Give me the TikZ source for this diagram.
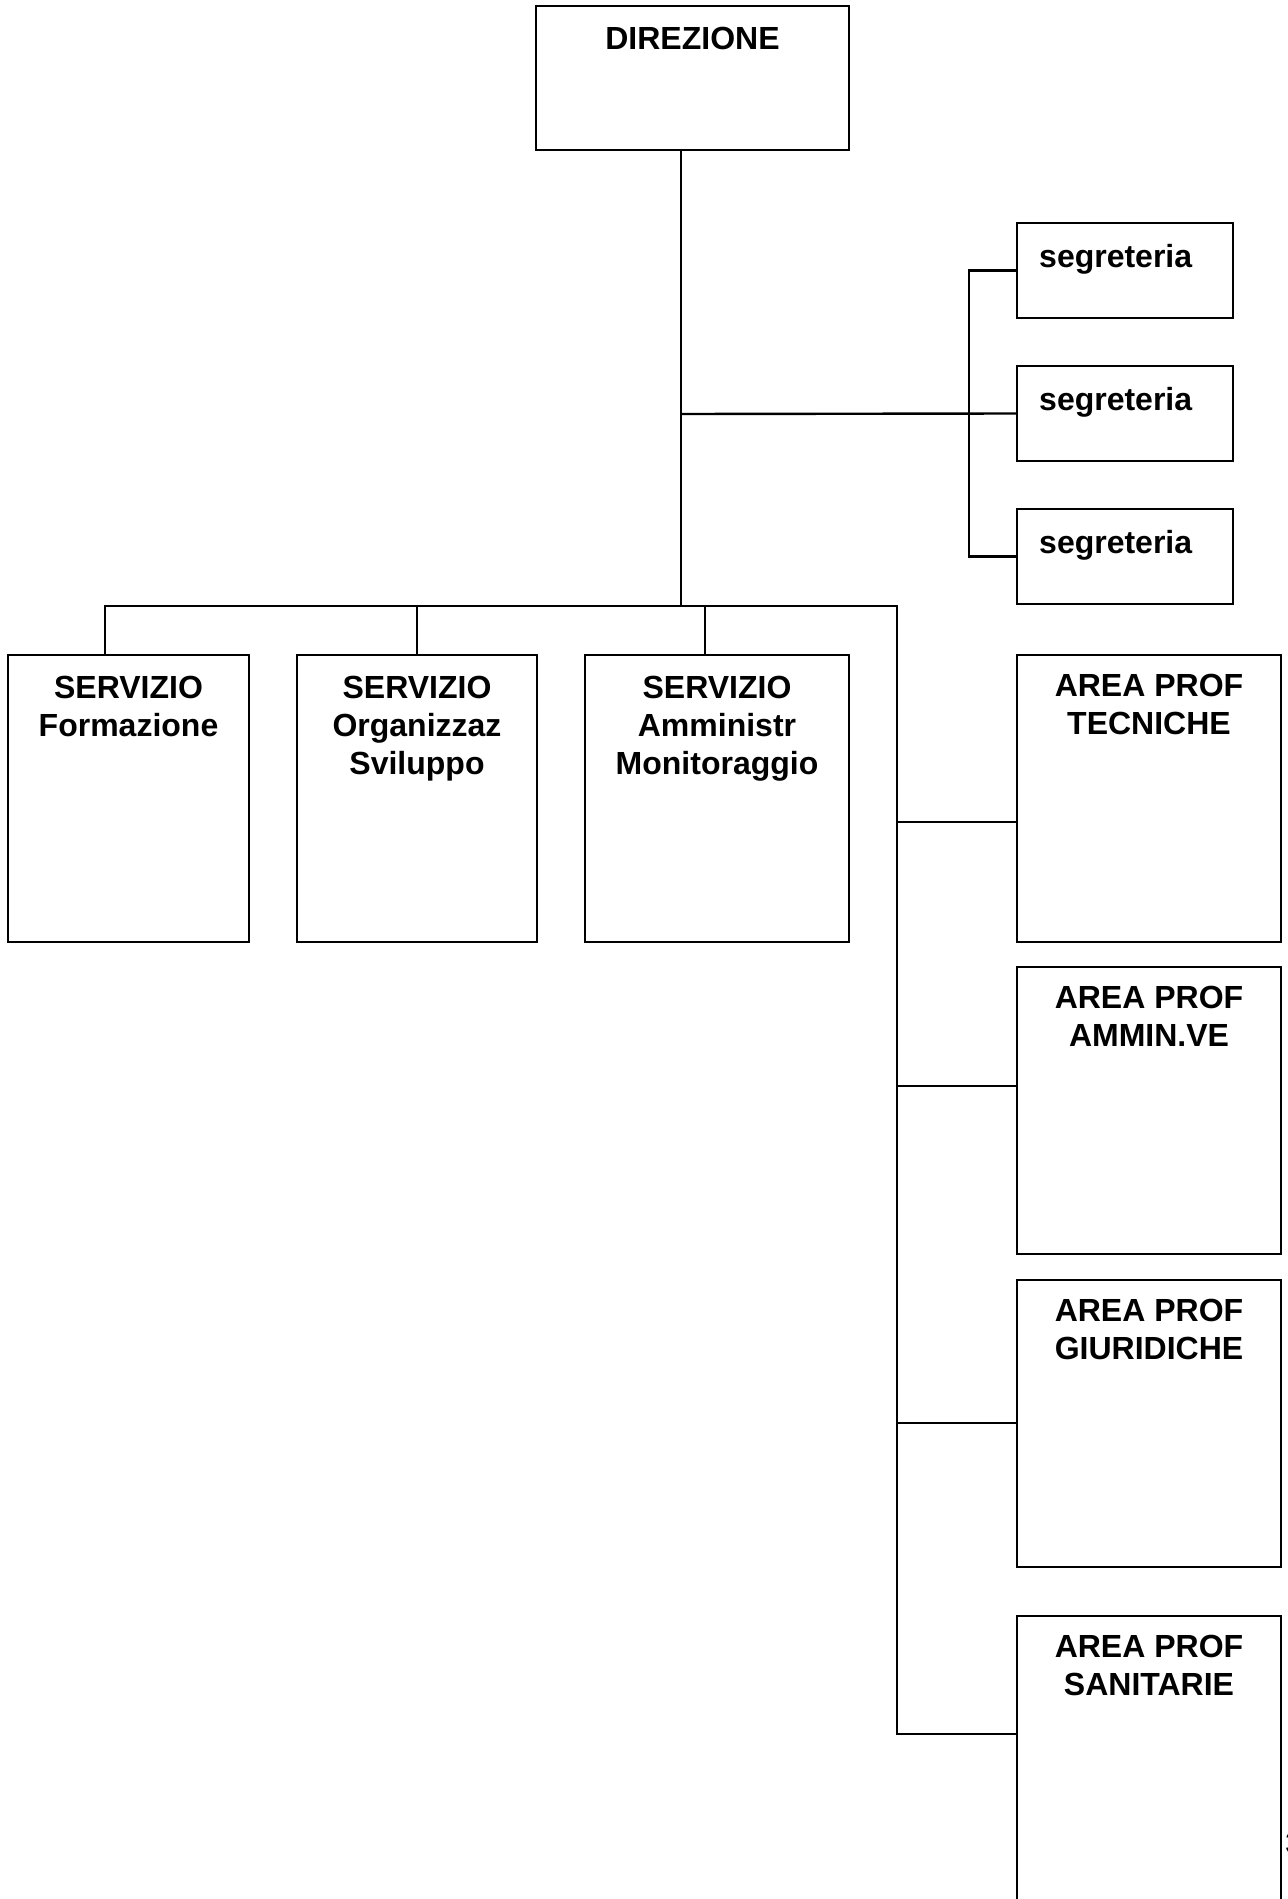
\documentclass[tikz,border=0pt]{standalone}
\usepackage{fontspec}
\setmainfont{Liberation Sans}
\usetikzlibrary{positioning, calc}

\begin{document}
\begin{tikzpicture}[x=0.5pt, y=-0.5pt, line width=1.2pt,
    box/.style={rectangle, draw, outer sep=0pt, anchor=north west},
    lbl/.style={inner sep=0pt, align=center, font=\bfseries\fontsize{16}{19}\selectfont}]
    \useasboundingbox (0,0) rectangle (1287,1899);

    % direzione e segreterie
    \node[box, minimum width=156.5pt, minimum height=72pt] (dir) at (536,6) {};
    \node[box, minimum width=108pt, minimum height=47.5pt] (seg1) at (1017,223) {};
    \node[box, minimum width=108pt, minimum height=47.5pt, below=24pt of seg1] (seg2) {};
    \node[box, minimum width=108pt, minimum height=47.5pt, below=24pt of seg2] (seg3) {};

    % servizi
    \node[box, minimum width=120.5pt, minimum height=143.5pt] (s1) at (8,655) {};
    \node[box, minimum width=120pt, minimum height=143.5pt, right=24pt of s1] (s2) {};
    \node[box, minimum width=132pt, minimum height=143.5pt, right=24pt of s2] (s3) {};

    % aree professionali
    \node[box, minimum width=132pt, minimum height=143.5pt] (a1) at (1017,655) {};
    \node[box, minimum width=132pt, minimum height=143.5pt, below=12.5pt of a1] (a2) {};
    \node[box, minimum width=132pt, minimum height=143.5pt, below=13pt of a2] (a3) {};
    \node[box, minimum width=132pt, minimum height=143.5pt, below=24.5pt of a3] (a4) {};

    % testi
    \node[lbl, below=10pt of dir.north] (tdir) {DIREZIONE};
    \foreach \n in {1,2,3}
        \node[lbl, below right=10pt and 10.5pt of seg\n.north west] (tseg\n) {segreteria};
    \node[lbl, below=10pt of s1.north] (ts1) {SERVIZIO\\Formazione};
    \node[lbl, below=10pt of s2.north] (ts2) {SERVIZIO\\Organizzaz\\Sviluppo};
    \node[lbl, below=10pt of s3.north] (ts3) {SERVIZIO\\Amministr\\Monitoraggio};
    \node[lbl, below=9pt of a1.north] (ta1) {AREA PROF\\TECNICHE};
    \node[lbl, below=9pt of a2.north] (ta2) {AREA PROF\\AMMIN.VE};
    \node[lbl, below=9pt of a3.north] (ta3) {AREA PROF\\GIURIDICHE};
    \node[lbl, below=9pt of a4.north] (ta4) {AREA PROF\\SANITARIE};
    \node[inner sep=0pt, anchor=base west, font=\fontsize{15}{18}\selectfont] (pnum) at (1284,1853) {3};

    % collegamenti
    \coordinate (hub) at (681,414);
    \coordinate (spine) at (897,606);
    \coordinate (b4) at ([yshift=-59pt]a4.north west);
    \draw (dir.south -| hub) -- (hub) -- (hub |- spine);
    \draw (hub) -- (seg2.west);
    \draw (seg1.west) -- ++(-24pt,0) |- (seg3.west);
    \draw ([xshift=-11.75pt]s1.north) |- (spine) -- (spine |- b4) -- (b4);
    \foreach \n/\dx in {2/0,3/-6}
        \draw ([xshift=\dx pt]s\n.north) -- ++(0,24.5pt);
    \foreach \n/\dy in {1/83.5,2/59.5,3/71.5}
        \draw ([yshift=-\dy pt]a\n.north west) -- ++(-60pt,0);
\end{tikzpicture}
\end{document}
